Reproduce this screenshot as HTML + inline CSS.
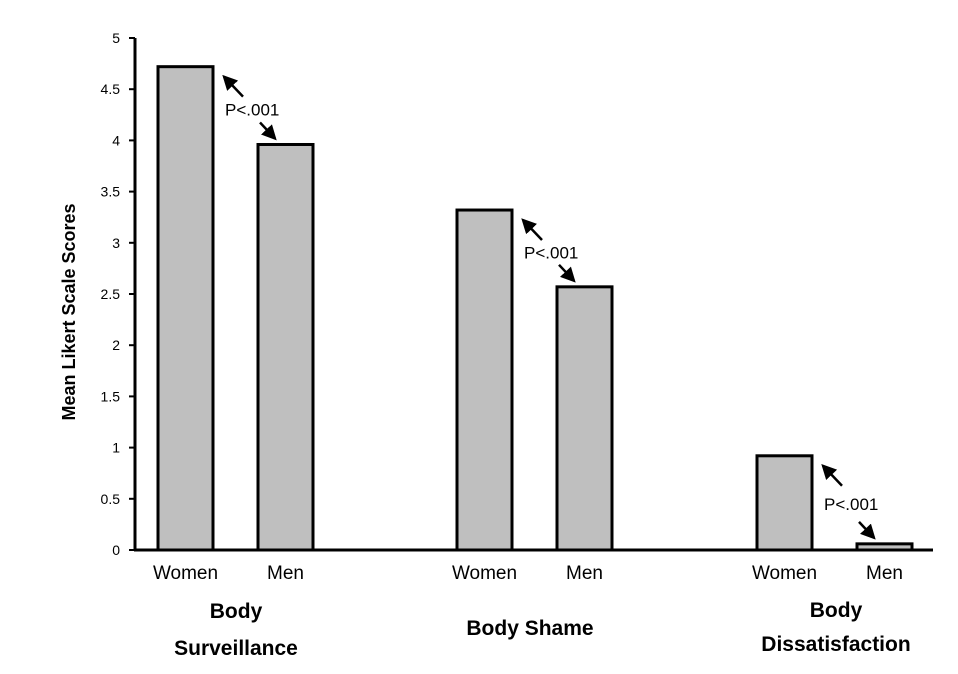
<!DOCTYPE html>
<html><head><meta charset="utf-8"><style>body{margin:0;background:#fff}svg{display:block}</style></head>
<body>
<svg id="chart" width="958" height="674" viewBox="0 0 958 674" xmlns="http://www.w3.org/2000/svg" font-family="'Liberation Sans', sans-serif">
<defs><marker id="ah" markerWidth="6" markerHeight="6" refX="5" refY="3" orient="auto" markerUnits="strokeWidth"><path d="M0,0 L6,3 L0,6 z" fill="#000"/></marker></defs>
<g id="plot"></g>
</svg>
<script>
const groups = ["Body Surveillance","Body Shame","Body Dissatisfaction"];
const genders = ["Women","Men"];
const women = [4.72, 3.32, 0.92];
const men = [3.96, 2.57, 0.06];
const yTicks = [0,0.5,1,1.5,2,2.5,3,3.5,4,4.5,5];
const pLabels = ["P<.001","P<.001","P<.001"];

const NS="http://www.w3.org/2000/svg";
const g=document.getElementById('plot');
const y0=550, yTop=38, xAxis=135, xEnd=933;
const y=v=>y0-(v/5)*(y0-yTop);
const groupX=[158,457,757];
const barW=55, gap=100;
function mk(t,a,txt){const e=document.createElementNS(NS,t);for(const k in a)e.setAttribute(k,a[k]);if(txt!==undefined)e.textContent=txt;g.appendChild(e);return e;}

yTicks.forEach(v=>{
  const l=mk('line',{x1:129,x2:xAxis,y1:y(v),y2:y(v),stroke:'#000','stroke-width':2});
  
  const t=mk('text',{x:120,y:y(v)+5,'text-anchor':'end','font-size':14},String(v));
  
});
groups.forEach((gr,i)=>{
  [women[i],men[i]].forEach((v,j)=>{
    const x=groupX[i]+j*gap;
    const r=mk('rect',{x:x,y:y(v),width:barW,height:y0-y(v),fill:'#bfbfbf',stroke:'#000','stroke-width':3});
    
    
    const t=mk('text',{x:x+barW/2,y:579,'text-anchor':'middle','font-size':19},genders[j]);
    
  });
  // annotation
  const xm=groupX[i]+barW, yw=y(women[i]), ym=y(men[i]);
  const a1=mk('line',{x1:xm+30,y1:yw+30,x2:xm+11,y2:yw+10,stroke:'#000','stroke-width':2.5,'marker-end':'url(#ah)'});
  
  const a2=mk('line',{x1:xm+47,y1:ym-22,x2:xm+62,y2:ym-6,stroke:'#000','stroke-width':2.5,'marker-end':'url(#ah)'});
  
  const ty=(yw+30+ym-22)/2+6;
  const p=mk('text',{x:xm+12,y:ty,'font-size':17},pLabels[i]);
  
});
const ax=mk('line',{x1:xAxis,x2:xAxis,y1:yTop,y2:y0+1,stroke:'#000','stroke-width':3});

const bx=mk('line',{x1:xAxis-1,x2:xEnd,y1:y0,y2:y0,stroke:'#000','stroke-width':3});


const cats=[[236,["Body","Surveillance"],[618,655]],[530,["Body Shame"],[635]],[836,["Body","Dissatisfaction"],[617,651]]];
cats.forEach(c=>{c[1].forEach((s,k)=>{
  const t=mk('text',{x:c[0],y:c[2][k],'text-anchor':'middle','font-size':21,'font-weight':'bold'},s);
  
});});
const yt=mk('text',{x:0,y:0,transform:'translate(75,312) rotate(-90)','text-anchor':'middle','font-size':18,'font-weight':'bold'},'Mean Likert Scale Scores');

</script>
</body></html>
